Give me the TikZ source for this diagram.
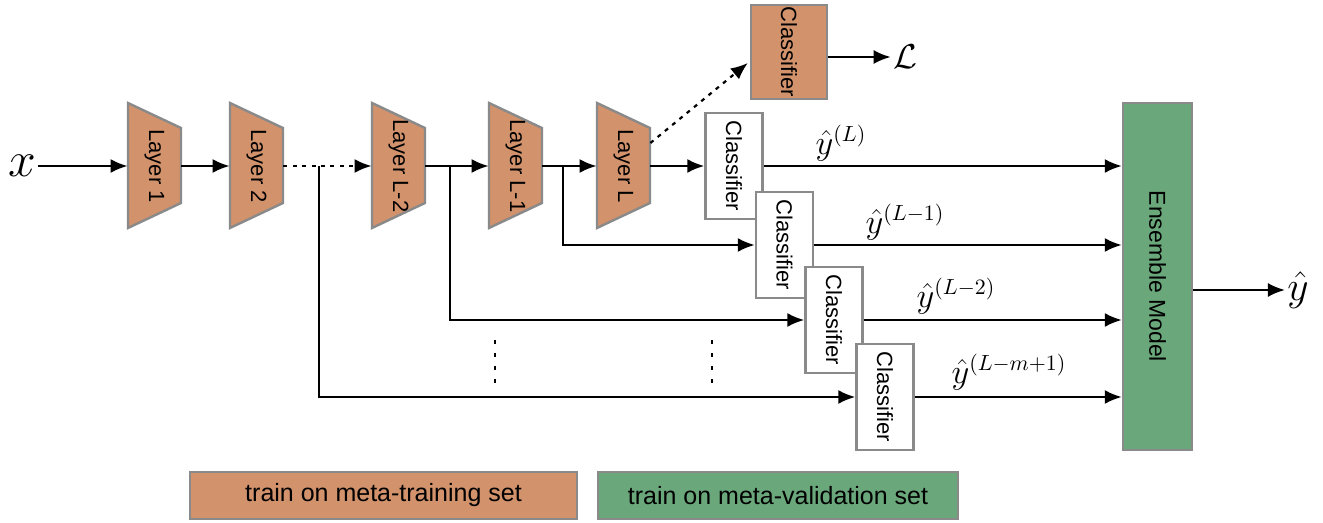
\documentclass[tikz,border=0pt]{standalone}
\usepackage{fontspec}
\setmainfont{Liberation Sans}
\usetikzlibrary{arrows.meta,calc}
\definecolor{orng}{RGB}{210,146,108}
\definecolor{grn}{RGB}{106,168,123}
\definecolor{bord}{RGB}{138,138,138}
\newcommand\mylayer[3]{%
  \draw[layerbox] (#2,103) -- (#2+53,128) -- (#2+53,203) -- (#2,228) -- cycle;
  \node[lnode] (#1) at (#2+26.5,166) {\rotatebox{-90}{#3}};}
\begin{document}
\begin{tikzpicture}[x=0.5pt,y=-0.5pt,
  arr/.style={line width=1.1pt,-{Latex[length=8.5pt,width=7pt]}},
  dotline/.style={dash pattern=on 2pt off 2.7pt},
  vdots/.style={line width=1.1pt,dash pattern=on 2pt off 4.5pt},
  layerbox/.style={draw=bord,line width=1.2pt,fill=orng},
  lnode/.style={inner sep=0,minimum width=26.5pt,minimum height=37.5pt,font=\fontsize{11}{13}\selectfont},
  clf/.style={draw=bord,line width=1.2pt,fill=white,inner sep=0,minimum width=28.5pt,minimum height=53pt,font=\fontsize{11}{13}\selectfont},
  legend/.style={draw=bord,line width=0.8pt,inner sep=0,minimum height=23.5pt,font=\fontsize{12.5}{14}\selectfont},
  lab/.style={inner sep=1pt,font=\fontsize{16}{19}\selectfont},
]
\useasboundingbox (0,0) rectangle (1323,523);

% input
\node[inner sep=1pt,font=\fontsize{23}{26}\selectfont] (x) at (22,166) {$x$};

% layers
\mylayer{l1}{128}{Layer 1}
\mylayer{l2}{230}{Layer 2}
\mylayer{l3}{372}{Layer L-2}
\mylayer{l4}{489}{Layer L-1}
\mylayer{l5}{597}{Layer L}

% top classifier and loss
\node[clf,fill=orng,minimum width=38pt,minimum height=47pt] (c0) at (789,52) {\rotatebox{-90}{Classifier}};
\node[inner sep=1pt,font=\fontsize{18}{21}\selectfont] (loss) at (905,57) {$\mathcal{L}$};

% classifiers
\node[clf] (c1) at (734,166) {\rotatebox{-90}{Classifier}};
\node[clf] (c2) at (784.5,245) {\rotatebox{-90}{Classifier}};
\node[clf] (c3) at (834,320) {\rotatebox{-90}{Classifier}};
\node[clf] (c4) at (885,397) {\rotatebox{-90}{Classifier}};

% ensemble
\node[draw=bord,line width=1.2pt,fill=grn,inner sep=0,minimum width=34.5pt,minimum height=173.5pt,font=\fontsize{11.5}{13}\selectfont] (ens) at (1157.5,276.5) {\rotatebox{-90}{Ensemble Model}};
\node[inner sep=1pt,font=\fontsize{22}{25}\selectfont] (yhat) at (1298,290) {$\hat{y}$};

% main chain
\draw[arr] (x) -- (l1);
\draw[arr] (l1) -- (l2);
\draw[arr,dotline] (l2) -- (l3);
\draw[arr] (l3) -- (l4);
\draw[arr] (l4) -- (l5);
\draw[arr] (l5) -- (c1);
\draw[arr,dotline] ($(l5.east)+(0,-23)$) -- ($(c0.west)+(-2,11)$);
\draw[arr] (c0.east |- loss) -- (loss.west);

% branches
\coordinate (b1) at (319,166);
\coordinate (b2) at (450,166);
\coordinate (b3) at (563,166);
\draw[arr] (b3) |- (c2);
\draw[arr] (b2) |- (c3);
\draw[arr] (b1) |- (c4);

% outputs
\draw[arr] (c1) -- (c1 -| ens.west);
\draw[arr] (c2) -- (c2 -| ens.west);
\draw[arr] (c3) -- (c3 -| ens.west);
\draw[arr] (c4) -- (c4 -| ens.west);
\draw[arr] (ens.east |- yhat.west) -- (yhat.west);

% labels
\node[lab] (y1) at (841,143) {$\hat{y}^{(L)}$};
\node[lab] (y2) at (905,222) {$\hat{y}^{(L-1)}$};
\node[lab] (y3) at (956,296) {$\hat{y}^{(L-2)}$};
\node[lab] (y4) at (1009,372) {$\hat{y}^{(L-m+1)}$};

% vertical ellipses
\draw[vdots] (495,340) -- (495,386);
\draw[vdots] (712,340) -- (712,386);

% legend
\node[legend,fill=orng,minimum width=193.5pt] (lg1) at (383.5,495.5) {train on meta-training set};
\node[legend,fill=grn,minimum width=180pt] (lg2) at (778,495.5) {train on meta-validation set};
\end{tikzpicture}
\end{document}
